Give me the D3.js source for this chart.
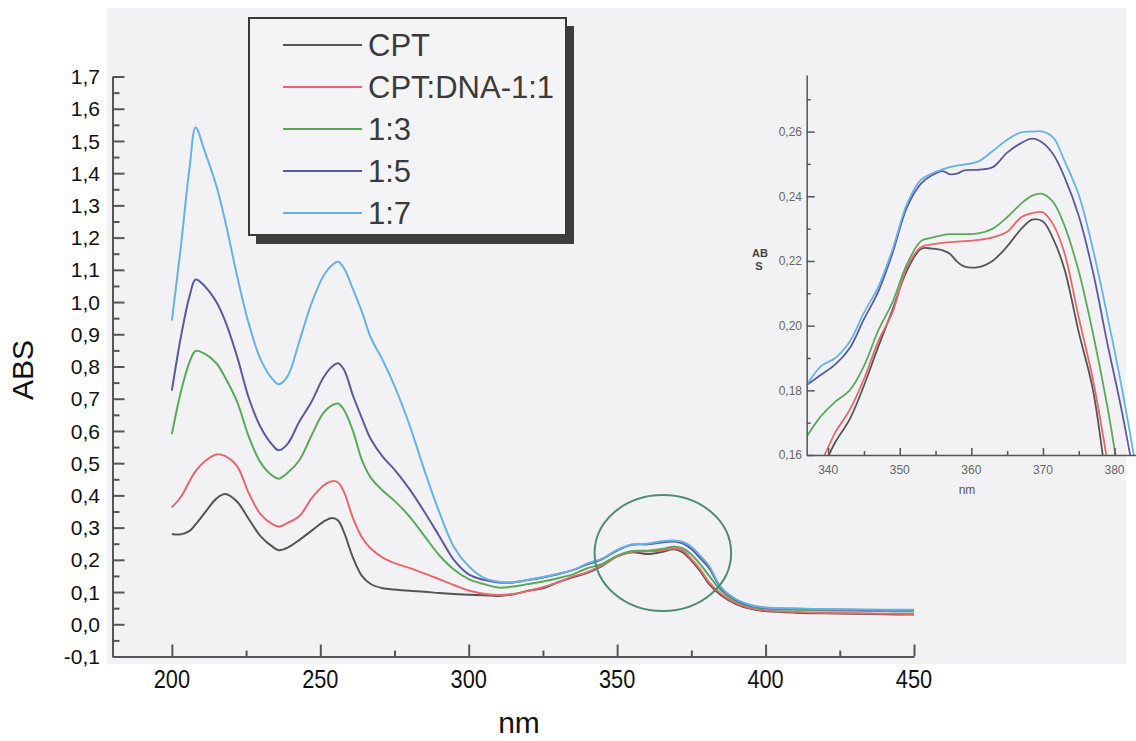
<!DOCTYPE html>
<html>
<head>
<meta charset="utf-8">
<script src="https://cdn.jsdelivr.net/npm/d3@7"></script>
<style>
  html, body { margin: 0; padding: 0; background: #ffffff; }
  svg { display: block; font-family: "Liberation Sans", Arial, sans-serif; }
</style>
</head>
<body>
<svg id="chart" width="1136" height="741"></svg>
<script>
// ---------------- DATA ----------------
const seriesNames = ["CPT", "CPT:DNA-1:1", "1:3", "1:5", "1:7"];

// Main spectrum (nm)
const wavelengths = [200, 203, 206, 208, 211, 215, 218, 222, 226, 230,
  234, 236, 239, 243, 247, 251, 254, 256, 258, 261,
  264, 267, 271, 275, 280, 285, 290, 295, 300, 305,
  310, 315, 320, 325, 330, 335, 340, 345, 350, 355,
  360, 365, 369, 372, 375, 378, 381, 385, 390, 395,
  400, 410, 420, 430, 440, 450];

const absCPT = [0.28, 0.279, 0.29, 0.31, 0.345, 0.39, 0.404, 0.38, 0.325, 0.272,
  0.24, 0.23, 0.238, 0.262, 0.29, 0.318, 0.33, 0.322, 0.285, 0.207,
  0.15, 0.125, 0.112, 0.108, 0.104, 0.101, 0.097, 0.094, 0.092, 0.09,
  0.088, 0.093, 0.104, 0.112, 0.13, 0.146, 0.16, 0.1815, 0.211, 0.2237,
  0.2182, 0.2245, 0.2325, 0.224, 0.198, 0.165, 0.125, 0.09, 0.063, 0.048,
  0.041, 0.036, 0.034, 0.033, 0.031, 0.030];

const abs1_1 = [0.363, 0.395, 0.445, 0.475, 0.505, 0.527, 0.522, 0.49, 0.405, 0.34,
  0.31, 0.303, 0.315, 0.336, 0.39, 0.43, 0.444, 0.44, 0.41, 0.33,
  0.27, 0.235, 0.207, 0.19, 0.175, 0.158, 0.14, 0.122, 0.105, 0.095,
  0.091, 0.094, 0.103, 0.115, 0.13, 0.148, 0.162, 0.1835, 0.211, 0.2253,
  0.2263, 0.229, 0.2349, 0.229, 0.2025, 0.17, 0.13, 0.095, 0.066, 0.05,
  0.043, 0.038, 0.035, 0.034, 0.033, 0.032];

const abs1_3 = [0.59, 0.72, 0.815, 0.848, 0.84, 0.81, 0.765, 0.69, 0.58, 0.50,
  0.46, 0.452, 0.47, 0.51, 0.585, 0.655, 0.68, 0.685, 0.665, 0.60,
  0.51, 0.455, 0.415, 0.383, 0.335, 0.275, 0.215, 0.17, 0.14, 0.125,
  0.114, 0.117, 0.125, 0.133, 0.143, 0.155, 0.174, 0.1875, 0.213, 0.2275,
  0.2284, 0.2335, 0.2405, 0.236, 0.2168, 0.186, 0.15, 0.105, 0.072, 0.055,
  0.048, 0.045, 0.043, 0.042, 0.041, 0.040];

const abs1_5 = [0.725, 0.89, 1.02, 1.07, 1.05, 1.0, 0.94, 0.83, 0.70, 0.61,
  0.555, 0.54, 0.56, 0.63, 0.69, 0.765, 0.80, 0.81, 0.79, 0.71,
  0.64, 0.575, 0.52, 0.48, 0.42, 0.35, 0.275, 0.20, 0.155, 0.138,
  0.130, 0.13, 0.137, 0.145, 0.155, 0.168, 0.186, 0.202, 0.229, 0.247,
  0.248, 0.2535, 0.257, 0.251, 0.234, 0.205, 0.174, 0.112, 0.076, 0.058,
  0.051, 0.048, 0.046, 0.045, 0.044, 0.044];

const abs1_7 = [0.942, 1.17, 1.42, 1.542, 1.47, 1.36, 1.25, 1.08, 0.93, 0.82,
  0.76, 0.745, 0.77, 0.88, 0.995, 1.08, 1.115, 1.125, 1.105, 1.04,
  0.97, 0.89, 0.82, 0.74, 0.62, 0.48, 0.35, 0.24, 0.18, 0.145,
  0.132, 0.13, 0.138, 0.147, 0.157, 0.168, 0.189, 0.204, 0.231, 0.2475,
  0.250, 0.2575, 0.26, 0.256, 0.2405, 0.213, 0.181, 0.115, 0.078, 0.06,
  0.052, 0.049, 0.047, 0.046, 0.045, 0.045];

// Inset (zoom of 337–383 nm)
const insetWavelengths = [337, 339, 341, 343, 345, 347, 349, 351, 353, 354.5,
  356, 357, 358, 359, 361, 363, 365, 367, 368.5, 370,
  371.5, 373, 375, 377, 379, 381, 383];

const insetCPT = [0.148, 0.155, 0.164, 0.171, 0.1815, 0.1935, 0.205, 0.217, 0.2238, 0.2238,
  0.2233, 0.2222, 0.2198, 0.2183, 0.2181, 0.2201, 0.2245, 0.2300, 0.2328, 0.2322,
  0.2265, 0.2175, 0.198, 0.18, 0.15, 0.125, 0.095];
const inset1_1 = [0.152, 0.158, 0.167, 0.1739, 0.1835, 0.1952, 0.2042, 0.218, 0.2243, 0.2251,
  0.2256, 0.2258, 0.226, 0.2261, 0.2265, 0.2273, 0.229, 0.2336, 0.2348, 0.235,
  0.231, 0.2225, 0.2025, 0.1831, 0.158, 0.13, 0.1];
const inset1_3 = [0.1657, 0.172, 0.1765, 0.180, 0.1875, 0.1985, 0.2073, 0.219, 0.2262, 0.2272,
  0.228, 0.2283, 0.2283, 0.2283, 0.2285, 0.2300, 0.2335, 0.2378, 0.2402, 0.2407,
  0.238, 0.231, 0.2168, 0.1975, 0.175, 0.148, 0.12];
const inset1_5 = [0.1816, 0.1848, 0.188, 0.193, 0.202, 0.2105, 0.2225, 0.2366, 0.244, 0.2465,
  0.2478, 0.2468, 0.247, 0.248, 0.2482, 0.249, 0.2535, 0.2565, 0.2578, 0.2565,
  0.2528, 0.246, 0.234, 0.2165, 0.1945, 0.1738, 0.15];
const inset1_7 = [0.1816, 0.1875, 0.190, 0.195, 0.204, 0.212, 0.2236, 0.2376, 0.2452, 0.247,
  0.2483, 0.249, 0.2495, 0.2498, 0.2508, 0.254, 0.2575, 0.2598, 0.26, 0.26,
  0.258, 0.251, 0.2405, 0.2235, 0.203, 0.181, 0.156];

// Axis ticks
const xMajorTicks = [200, 250, 300, 350, 400, 450];
const xMinorTicks = [225, 275, 325, 375, 425];
const yMajorTicks = [-0.1, 0, 0.1, 0.2, 0.3, 0.4, 0.5, 0.6, 0.7, 0.8, 0.9, 1.0, 1.1, 1.2, 1.3, 1.4, 1.5, 1.6, 1.7];
const insetXTicks = [340, 350, 360, 370, 380];
const insetXMinor = [345, 355, 365, 375];
const insetYTicks = [0.16, 0.18, 0.20, 0.22, 0.24, 0.26];
const insetYMinor = [0.17, 0.19, 0.21, 0.23, 0.25, 0.27];

// Highlight ellipse (data units): centre and radii
const circleCenter = [365.4, 0.221];
const circleRadii = [23, 0.18];

// ---------------- STYLE ----------------
const colors = ["#555555", "#e8676d", "#5aa95a", "#5a5a9c", "#65b2e6"];
const mainValues = [absCPT, abs1_1, abs1_3, abs1_5, abs1_7];
const insetValues = [insetCPT, inset1_1, inset1_3, inset1_5, inset1_7];
const axisColor = "#555";
const bg = "#f2f2f4";
const commaFmt = (f) => (v) => d3.format(f)(v).replace(".", ",").replace("−", "-");

const svg = d3.select("#chart");

// paper background (scanned area)
svg.append("rect").attr("x", 107).attr("y", 8).attr("width", 1019).attr("height", 656).attr("fill", bg);

// ---------------- MAIN CHART ----------------
const x = d3.scaleLinear().domain([180, 450]).range([112.5, 914]);
const y = d3.scaleLinear().domain([-0.1, 1.7]).range([656.5, 76.5]);

const line = d3.line().x(d => x(d[0])).y(d => y(d[1])).curve(d3.curveCatmullRom.alpha(0.5));

const mainG = svg.append("g");
mainValues.forEach((vals, i) => {
  mainG.append("path")
    .datum(wavelengths.map((w, j) => [w, vals[j]]))
    .attr("d", line)
    .attr("fill", "none")
    .attr("stroke", colors[i])
    .attr("stroke-width", 2)
    .attr("stroke-linejoin", "round");
});

// ellipse highlight
svg.append("ellipse")
  .attr("cx", x(circleCenter[0]))
  .attr("cy", y(circleCenter[1]))
  .attr("rx", x(circleCenter[0] + circleRadii[0]) - x(circleCenter[0]))
  .attr("ry", y(circleCenter[1] - circleRadii[1]) - y(circleCenter[1]))
  .attr("fill", "none")
  .attr("stroke", "#4e8c74")
  .attr("stroke-width", 2);

function styleAxis(g, w) {
  g.selectAll("path.domain").attr("stroke", axisColor).attr("stroke-width", w);
  g.selectAll(".tick line").attr("stroke", axisColor).attr("stroke-width", w);
}

// y axis (ticks point inward)
const yAxisG = svg.append("g").attr("transform", `translate(${x(180)},0)`)
  .call(d3.axisRight(y).tickValues(yMajorTicks).tickSize(12).tickSizeOuter(0).tickFormat(""));
styleAxis(yAxisG, 2);
const yMinorG = svg.append("g").attr("transform", `translate(${x(180)},0)`)
  .call(d3.axisRight(y).tickValues(yMajorTicks.slice(0, -1).map(v => v + 0.05)).tickSize(7).tickSizeOuter(0).tickFormat(""));
styleAxis(yMinorG, 2);
yMinorG.select("path.domain").remove();

svg.append("g").selectAll("text").data(yMajorTicks).join("text")
  .attr("x", 100).attr("y", d => y(d)).attr("dy", "0.36em")
  .attr("text-anchor", "end")
  .attr("font-size", 21).attr("fill", "#111")
  .text(d => commaFmt(".1f")(Math.abs(d) < 1e-9 ? 0 : d));

// x axis
const xAxisG = svg.append("g").attr("transform", `translate(0,${y(-0.1)})`)
  .call(d3.axisTop(x).tickValues(xMajorTicks).tickSize(12).tickSizeOuter(0).tickFormat(""));
styleAxis(xAxisG, 2);
const xMinorG = svg.append("g").attr("transform", `translate(0,${y(-0.1)})`)
  .call(d3.axisTop(x).tickValues(xMinorTicks).tickSize(6).tickSizeOuter(0).tickFormat(""));
styleAxis(xMinorG, 2);
xMinorG.select("path.domain").remove();

svg.append("g").selectAll("text").data(xMajorTicks).join("text")
  .attr("transform", d => `translate(${x(d)},688) scale(0.87,1)`)
  .attr("text-anchor", "middle")
  .attr("font-size", 25).attr("fill", "#111")
  .text(d => d);

// axis titles
svg.append("text")
  .attr("transform", "translate(33,370) rotate(-90)")
  .attr("text-anchor", "middle")
  .attr("font-size", 30).attr("fill", "#111")
  .text("ABS");
svg.append("text")
  .attr("x", 519).attr("y", 733)
  .attr("text-anchor", "middle")
  .attr("font-size", 30).attr("fill", "#111")
  .text("nm");

// ---------------- LEGEND ----------------
const legend = svg.append("g");
legend.append("rect").attr("x", 256).attr("y", 26).attr("width", 318).attr("height", 218).attr("fill", "#3d3d3d");
legend.append("rect").attr("x", 249).attr("y", 18).attr("width", 317).attr("height", 217)
  .attr("fill", "#f4f4f6").attr("stroke", "#3a3a3a").attr("stroke-width", 2);
seriesNames.forEach((name, i) => {
  const cy = 45 + i * 42;
  legend.append("line").attr("x1", 283).attr("x2", 362).attr("y1", cy).attr("y2", cy)
    .attr("stroke", colors[i]).attr("stroke-width", 2);
  legend.append("text").attr("x", 368).attr("y", cy + 11)
    .attr("font-size", 31).attr("fill", "#3a3a3a").text(name);
});

// ---------------- INSET ----------------
const ix = d3.scaleLinear().domain([337, 383]).range([806.7, 1136]);
const iy = d3.scaleLinear().domain([0.16, 0.2775]).range([455, 75]);

svg.append("clipPath").attr("id", "insetClip")
  .append("rect").attr("x", 806.7).attr("y", 75).attr("width", 330).attr("height", 380);

const iline = d3.line().x(d => ix(d[0])).y(d => iy(d[1])).curve(d3.curveCatmullRom.alpha(0.5));
const insetG = svg.append("g").attr("clip-path", "url(#insetClip)");
insetValues.forEach((vals, i) => {
  insetG.append("path")
    .datum(insetWavelengths.map((w, j) => [w, vals[j]]))
    .attr("d", iline)
    .attr("fill", "none")
    .attr("stroke", colors[i])
    .attr("stroke-width", 1.8)
    .attr("stroke-linejoin", "round");
});

const iyAxis = svg.append("g").attr("transform", `translate(${ix(337)},0)`)
  .call(d3.axisRight(iy).tickValues(insetYTicks).tickSize(8).tickSizeOuter(0).tickFormat(""));
styleAxis(iyAxis, 1.5);
const iyMinor = svg.append("g").attr("transform", `translate(${ix(337)},0)`)
  .call(d3.axisRight(iy).tickValues(insetYMinor).tickSize(4).tickSizeOuter(0).tickFormat(""));
styleAxis(iyMinor, 1.5);
iyMinor.select("path.domain").remove();

svg.append("g").selectAll("text").data(insetYTicks).join("text")
  .attr("x", 802).attr("y", d => iy(d)).attr("dy", "0.36em")
  .attr("text-anchor", "end").attr("font-size", 12).attr("fill", "#666")
  .text(d => commaFmt(".2f")(d));

const ixAxis = svg.append("g").attr("transform", `translate(0,${iy(0.16)})`)
  .call(d3.axisTop(ix).tickValues(insetXTicks).tickSize(7).tickSizeOuter(0).tickFormat(""));
styleAxis(ixAxis, 1.5);
const ixMinor = svg.append("g").attr("transform", `translate(0,${iy(0.16)})`)
  .call(d3.axisTop(ix).tickValues(insetXMinor).tickSize(4).tickSizeOuter(0).tickFormat(""));
styleAxis(ixMinor, 1.5);
ixMinor.select("path.domain").remove();

svg.append("g").selectAll("text").data(insetXTicks).join("text")
  .attr("x", d => ix(d)).attr("y", 474)
  .attr("text-anchor", "middle").attr("font-size", 12).attr("fill", "#666")
  .text(d => d);

svg.append("text").attr("x", 967).attr("y", 494).attr("text-anchor", "middle")
  .attr("font-size", 12).attr("fill", "#555").text("nm");
svg.append("text").attr("x", 760).attr("y", 257).attr("text-anchor", "middle")
  .attr("font-size", 11).attr("font-weight", "bold").attr("fill", "#444").text("AB");
svg.append("text").attr("x", 759).attr("y", 270).attr("text-anchor", "middle")
  .attr("font-size", 11).attr("font-weight", "bold").attr("fill", "#444").text("S");
</script>
</body>
</html>
